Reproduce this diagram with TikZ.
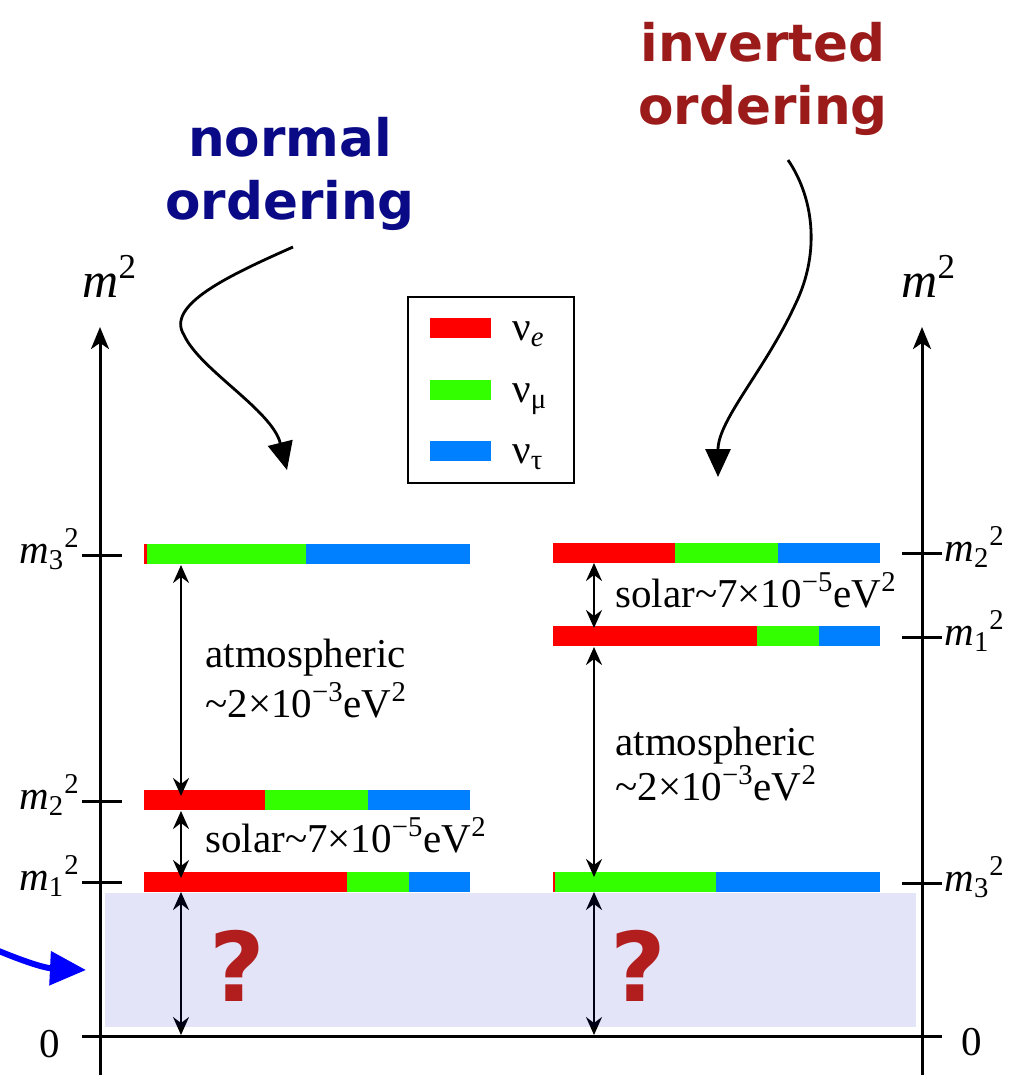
\documentclass[tikz,border=0pt]{standalone}
\usepackage{fontspec}
\setmainfont{Liberation Serif}
\setsansfont{DejaVu Sans}
\usepackage{xcolor}
\usetikzlibrary{arrows.meta}

\definecolor{nuered}{RGB}{255,0,0}
\definecolor{numugreen}{RGB}{51,255,0}
\definecolor{nutaublue}{RGB}{0,128,255}
\definecolor{normalblue}{RGB}{10,10,135}
\definecolor{invertedred}{RGB}{155,27,27}
\definecolor{qred}{RGB}{178,30,30}
\definecolor{unknownfill}{RGB}{0,0,190}

\newcommand{\massbar}[5]{%
    \fill[nuered] (#2,#1-10) rectangle (#3,#1+10);
    \fill[numugreen] (#3,#1-10) rectangle (#4,#1+10);
    \fill[nutaublue] (#4,#1-10) rectangle (#5,#1+10);
}
\newcommand{\atmval}{\textasciitilde 2×10\textsuperscript{−3}eV\textsuperscript{2}}
\newcommand{\solval}{solar\textasciitilde 7×10\textsuperscript{−5}eV\textsuperscript{2}}

\begin{document}
\begin{tikzpicture}[x=0.5pt,y=-0.5pt,
    lbl/.style={font=\fontsize{20.5}{24}\selectfont,inner sep=0pt},
    axlbl/.style={font=\fontsize{25}{28}\selectfont,inner sep=0pt,anchor=base west},
    title/.style={font=\fontsize{25.8}{31}\sffamily\bfseries,inner sep=0pt,anchor=base},
    axis/.style={line width=1.5pt},
    gap/.style={{Stealth[length=9pt,width=8pt,inset=3pt]}-{Stealth[length=9pt,width=8pt,inset=3pt]},line width=1.2pt},
    hint/.style={-{Triangle[length=14pt,width=12.5pt]},line width=1.4pt},
    qmark/.style={font=\fontsize{48}{50}\sffamily\bfseries,text=qred,inner sep=0pt}]

    \useasboundingbox (0,0) rectangle (1014,1075);

    % axes
    \coordinate (lbase) at (100,1075);
    \coordinate (ltop) at (100,327);
    \coordinate (rbase) at (922,1075);
    \coordinate (rtop) at (922,327);
    \coordinate (zl) at (82,1036);
    \coordinate (zr) at (942,1036);
    \draw[axis,-{Stealth[length=11pt,width=9pt,inset=3pt]}] (lbase) -- (ltop);
    \draw[axis,-{Stealth[length=11pt,width=9pt,inset=3pt]}] (rbase) -- (rtop);
    \draw[axis] (zl) -- (zr);
    \foreach \y in {555,801,882}
        \draw[axis] (82,\y) -- (122,\y);
    \foreach \y in {553,637,883}
        \draw[axis] (902,\y) -- (942,\y);

    \node[axlbl] (lmsq) at (82,297) {\textit{m}\textsuperscript{2}};
    \node[axlbl] (rmsq) at (901,297) {\textit{m}\textsuperscript{2}};
    \node[lbl,anchor=base] (lzero) at (50,1057) {0};
    \node[lbl,anchor=base] (rzero) at (972,1055) {0};
    \node[lbl,anchor=base east] (lm3) at (80,563) {\textit{m}\textsubscript{3}\textsuperscript{2}};
    \node[lbl,anchor=base east] (lm2) at (80,809) {\textit{m}\textsubscript{2}\textsuperscript{2}};
    \node[lbl,anchor=base east] (lm1) at (80,890) {\textit{m}\textsubscript{1}\textsuperscript{2}};
    \node[lbl,anchor=base west] (rm2) at (944,561) {\textit{m}\textsubscript{2}\textsuperscript{2}};
    \node[lbl,anchor=base west] (rm1) at (944,645) {\textit{m}\textsubscript{1}\textsuperscript{2}};
    \node[lbl,anchor=base west] (rm3) at (944,891) {\textit{m}\textsubscript{3}\textsuperscript{2}};

    % mass levels
    \massbar{554}{144}{147}{306}{470}
    \massbar{800}{144}{265}{368}{470}
    \massbar{882}{144}{347}{409}{470}
    \massbar{553}{553}{675}{778}{880}
    \massbar{636}{553}{757}{819}{880}
    \massbar{882}{553}{555}{716}{880}

    % splittings
    \coordinate (la1) at (181,565);
    \coordinate (la2) at (181,796);
    \coordinate (ls1) at (181,811);
    \coordinate (ls2) at (181,878);
    \coordinate (lu1) at (181,892);
    \coordinate (lu2) at (181,1035);
    \coordinate (rs1) at (594,563);
    \coordinate (rs2) at (594,628);
    \coordinate (ra1) at (594,647);
    \coordinate (ra2) at (594,877);
    \coordinate (ru1) at (594,892);
    \coordinate (ru2) at (594,1035);
    \draw[gap] (la1) -- (la2);
    \draw[gap] (ls1) -- (ls2);
    \draw[gap] (lu1) -- (lu2);
    \draw[gap] (rs1) -- (rs2);
    \draw[gap] (ra1) -- (ra2);
    \draw[gap] (ru1) -- (ru2);

    \node[lbl,anchor=base west] (latm) at (205,667) {atmospheric};
    \node[lbl,anchor=base west] (latmval) at (205,717) {\atmval};
    \node[lbl,anchor=base west] (lsol) at (205,852) {\solval};
    \node[lbl,anchor=base west] (rsol) at (615,607) {\solval};
    \node[lbl,anchor=base west] (ratm) at (615,755) {atmospheric};
    \node[lbl,anchor=base west] (ratmval) at (615,800) {\atmval};

    % unknown lightest mass
    \fill[unknownfill,fill opacity=0.106] (105,893) rectangle (916,1027);
    \node[qmark] (lq) at (237,966) {?};
    \node[qmark] (rq) at (638,966) {?};
    \coordinate (bstart) at (-6,949);
    \coordinate (bend) at (86,970);
    \draw[blue,line width=3pt,-{Triangle[length=18pt,width=16.5pt]}]
        (bstart) .. controls (25,962) and (45,968) .. (bend);

    % legend
    \draw[line width=1.2pt] (408,297) rectangle (574,483);
    \fill[nuered] (430,318) rectangle (491,338);
    \fill[numugreen] (430,380) rectangle (491,400);
    \fill[nutaublue] (430,441) rectangle (491,461);
    \node[lbl,anchor=base west] (lege) at (512,340) {ν\textsubscript{\textit{e}}};
    \node[lbl,anchor=base west] (legmu) at (512,402) {ν\textsubscript{μ}};
    \node[lbl,anchor=base west] (legtau) at (512,463) {ν\textsubscript{τ}};

    % titles
    \node[title,text=normalblue] (ntop) at (290,157) {normal};
    \node[title,text=normalblue] (nbot) at (290,220) {ordering};
    \node[title,text=invertedred] (itop) at (763,62) {inverted};
    \node[title,text=invertedred] (ibot) at (763,125) {ordering};

    \coordinate (nstart) at (293,247);
    \coordinate (nend) at (287,470);
    \coordinate (istart) at (788,160);
    \coordinate (iend) at (718,477);
    \draw[hint] (nstart) .. controls (230,275) and (165,305) .. (184,335)
        .. controls (200,370) and (272,410) .. (nend);
    \draw[hint] (istart) .. controls (812,195) and (822,250) .. (795,305)
        .. controls (765,370) and (718,420) .. (iend);
\end{tikzpicture}
\end{document}
